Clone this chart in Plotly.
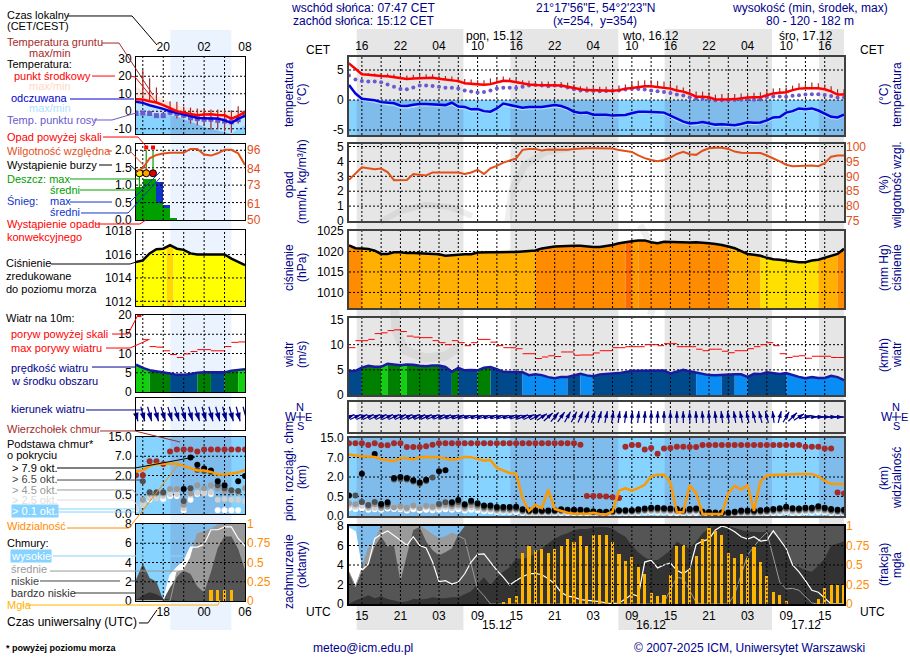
import numpy as np
import plotly.graph_objects as go

WIDTH, HEIGHT = 910, 660

# hours counted from 14.12 00 UTC
HOURS = list(range(13, 91))
SMALL_HOURS = list(range(14, 31))

NIGHT_START = [14.2, 38.1, 62.1, 86.1]
NIGHT_END = [30.8, 54.9, 78.8, 90.0]
DATE_START = [14.2, 54.9]
DATE_END = [30.8, 78.8]
SMALL_DAY = [19.05, 28.0]

TICK_HOURS = [15, 21, 27, 33, 39, 45, 51, 57, 63, 69, 75, 81, 87]
UTC_TICKS = ['15', '21', '03', '09', '15', '21', '03', '09', '15', '21', '03', '09', '15']
CET_TICKS = ['16', '22', '04', '10', '16', '22', '04', '10', '16', '22', '04', '10', '16']
SMALL_TICK_HOURS = [18, 24, 30]
SMALL_UTC_TICKS = ['18', '00', '06']
SMALL_CET_TICKS = ['20', '02', '08']

TEMP_MID = [6.1, 5.2, 4.3, 4.2, 4.05, 4.0, 3.95, 3.8, 3.55, 3.5,
            3.6, 3.65, 3.7, 3.7, 3.55, 3.45, 3.35, 3.15, 2.8, 2.7,
            2.6, 2.55, 2.65, 2.95, 3.2, 3.15, 2.95, 2.8, 2.6, 2.5,
            2.45, 2.4, 2.45, 2.4, 2.2, 1.95, 1.8, 1.65, 1.6, 1.6,
            1.6, 1.55, 1.65, 1.9, 2.0, 2.15, 2.3, 2.3, 2.2, 2.1,
            1.9, 1.6, 1.4, 1.05, 0.55, 0.55, 0.45, 0.1, 0.05, 0.1,
            0.15, 0.3, 0.4, 0.45, 0.45, 0.8, 1.1, 1.2, 1.3, 1.65,
            1.9, 1.95, 2.0, 1.95, 1.8, 1.45, 0.9, 0.9]
TEMP_LOW = [5.9, 5.0, 4.1, 4.0, 3.8, 3.8, 3.7, 3.6, 3.3, 3.3,
            3.4, 3.4, 3.5, 3.5, 3.3, 3.2, 3.1, 2.9, 2.5, 2.4,
            2.3, 2.3, 2.4, 2.7, 3.0, 2.9, 2.7, 2.5, 2.3, 2.2,
            2.2, 2.1, 2.2, 2.1, 1.9, 1.7, 1.5, 1.4, 1.3, 1.3,
            1.3, 1.3, 1.4, 1.6, 1.8, 1.9, 2.0, 2.0, 1.9, 1.8,
            1.6, 1.3, 1.1, 0.8, 0.3, 0.3, 0.2, -0.2, -0.2, -0.1,
            -0.1, 0.1, 0.2, 0.2, 0.2, 0.5, 0.9, 1.0, 1.1, 1.4,
            1.7, 1.7, 1.8, 1.7, 1.5, 1.2, 0.6, 0.6]
DEW_POINT = [4.1, 3.4, 3.15, 3.1, 3.1, 2.95, 2.6, 2.2, 1.85, 1.8,
             2.1, 2.4, 2.4, 2.35, 2.2, 2.05, 2.05, 1.9, 1.6, 1.4,
             1.25, 1.35, 1.6, 1.9, 2.05, 2.05, 2.0, 2.2, 2.4, 2.5,
             2.4, 2.3, 2.4, 2.35, 2.1, 1.8, 1.6, 1.55, 1.5, 1.45,
             1.5, 1.5, 1.6, 1.75, 1.85, 1.85, 1.75, 1.6, 1.45, 1.35,
             1.15, 0.9, 0.75, 0.45, 0.25, 0.2, 0.15, -0.05, -0.05, 0.0,
             0.0, 0.05, 0.05, 0.05, 0.1, 0.5, 0.6, 0.6, 0.55, 0.7,
             0.8, 0.9, 0.95, 0.95, 0.85, 0.65, 0.4, 0.4]
APPARENT = [2.5, 1.1, 0.2, 0.1, -0.05, -0.35, -0.5, -0.55, -0.95, -1.0,
            -0.8, -0.65, -0.65, -0.7, -0.8, -0.85, -0.45, -1.1, -1.15, -1.55,
            -1.5, -1.85, -1.95, -1.4, -0.6, -0.85, -1.1, -1.3, -1.15, -1.15,
            -1.15, -1.0, -0.85, -1.0, -1.4, -1.95, -2.15, -2.1, -2.45, -2.45,
            -2.45, -2.6, -2.6, -2.5, -2.2, -1.95, -1.95, -2.05, -2.05, -2.1,
            -2.6, -3.2, -3.6, -3.9, -3.85, -3.65, -3.9, -4.1, -4.05, -4.15,
            -4.2, -4.0, -3.7, -3.8, -3.75, -3.4, -2.9, -2.85, -2.1, -1.85,
            -1.4, -1.55, -1.4, -1.75, -2.3, -2.8, -2.9, -2.45]
APPARENT_LOW = [2.1, 0.7, -0.2, -0.3, -0.5, -0.7, -0.9, -1.0, -1.4, -1.5,
                -1.3, -1.1, -1.1, -1.1, -1.2, -1.2, -0.9, -1.5, -1.6, -2.0,
                -1.9, -2.2, -2.3, -1.8, -1.1, -1.3, -1.5, -1.7, -1.6, -1.6,
                -1.6, -1.4, -1.3, -1.4, -1.8, -2.3, -2.5, -2.4, -2.7, -2.7,
                -2.7, -2.9, -2.9, -2.8, -2.5, -2.3, -2.3, -2.4, -2.4, -2.5,
                -3.0, -3.6, -4.0, -4.3, -4.3, -4.0, -4.3, -4.5, -4.4, -4.5,
                -4.6, -4.4, -4.1, -4.2, -4.1, -3.8, -3.3, -3.2, -2.5, -2.2,
                -1.8, -1.9, -1.8, -2.1, -2.7, -3.2, -3.3, -2.8]
GROUND_MAX = [6.3, 5.4, 4.6, 4.5, 4.4, 4.4, 4.4, 4.3, 4.1, 4.1,
              4.2, 4.2, 4.3, 4.3, 4.1, 4.0, 3.9, 3.8, 3.5, 3.4,
              3.3, 3.3, 3.6, 3.8, 3.9, 3.7, 3.5, 3.3, 3.2, 3.1,
              3.1, 3.1, 3.1, 3.0, 2.9, 2.6, 2.3, 2.2, 2.2, 2.2,
              2.2, 2.1, 2.4, 2.6, 2.9, 3.2, 3.3, 3.3, 3.2, 3.1,
              2.8, 2.4, 2.1, 1.7, 1.4, 1.4, 1.3, 0.9, 1.0, 1.0,
              1.0, 1.1, 1.2, 1.2, 1.3, 1.6, 1.9, 2.0, 2.1, 2.4,
              2.8, 2.8, 2.9, 2.8, 2.6, 2.3, 1.8, 1.8]

HUMIDITY = [88.8, 91.0, 93.0, 92.7, 92.4, 92.6, 91.4, 88.7, 88.7, 88.8,
            90.8, 90.6, 90.3, 91.3, 91.3, 91.3, 91.3, 91.3, 90.8, 91.3,
            92.2, 90.8, 92.7, 93.5, 94.6, 95.2, 96.0, 98.9, 99.2, 99.2,
            98.7, 99.0, 99.0, 98.9, 98.9, 99.2, 99.4, 99.4, 99.4, 99.4,
            99.4, 99.3, 98.8, 98.6, 98.2, 97.0, 96.1, 95.5, 95.1, 95.5,
            96.3, 97.5, 98.2, 97.4, 97.2, 98.6, 99.4, 99.6, 99.6, 99.2,
            98.3, 97.9, 97.9, 98.0, 97.8, 97.0, 96.1, 95.0, 93.9, 93.4,
            93.5, 93.6, 93.6, 93.4, 94.4, 96.6, 97.0, 97.0]

PRESSURE = [1021.5, 1020.8, 1020.7, 1020.6, 1020.2, 1019.4, 1019.4, 1019.8, 1019.8, 1019.6,
            1019.6, 1019.5, 1019.5, 1019.4, 1019.3, 1018.95, 1019.0, 1019.2, 1019.35, 1019.35,
            1019.75, 1019.85, 1019.8, 1019.8, 1019.8, 1019.85, 1019.9, 1020.0, 1020.1, 1020.25,
            1020.75, 1021.0, 1021.2, 1021.3, 1021.4, 1021.4, 1021.4, 1021.2, 1021.1, 1021.1,
            1021.3, 1021.6, 1022.0, 1022.3, 1022.5, 1022.7, 1022.7, 1022.25, 1022.0, 1022.35,
            1022.3, 1022.2, 1022.2, 1022.2, 1022.25, 1022.2, 1022.0, 1021.8, 1021.6, 1021.2,
            1020.8, 1020.1, 1019.4, 1019.2, 1018.95, 1018.45, 1018.1, 1018.0, 1017.8, 1017.5,
            1017.4, 1017.4, 1017.8, 1018.0, 1018.45, 1018.95, 1019.4, 1020.65]
PRESSURE_RUNS = [(13, 15, '#ff8c00'), (15, 42, '#ffb000'), (42, 56, '#ff8c00'), (56, 57, '#ff6a00'),
                 (57, 58, '#ff9a00'), (58, 72, '#ff8c00'), (72, 77, '#ffb000'), (77, 86, '#ffe000'),
                 (86, 89, '#ffb000'), (89, 90, '#ff8c00')]

WIND = [4.75, 4.8, 5.45, 5.8, 5.6, 5.6, 6.2, 6.1, 5.9, 6.05,
        6.0, 5.8, 5.7, 5.85, 5.85, 5.6, 4.6, 5.4, 4.9, 4.95,
        4.9, 5.4, 5.55, 5.15, 4.6, 4.55, 4.55, 4.5, 3.95, 4.1,
        3.95, 3.55, 3.35, 3.6, 3.6, 3.95, 4.2, 3.9, 3.75, 4.1,
        4.15, 4.2, 4.35, 4.55, 4.75, 4.8, 4.8, 4.8, 4.8, 4.85,
        4.3, 4.7, 5.0, 4.7, 4.4, 4.1, 3.95, 3.9, 4.0, 4.1,
        4.1, 4.1, 3.6, 4.2, 4.15, 4.5, 4.35, 4.15, 4.35, 3.9,
        3.6, 3.35, 3.55, 3.4, 3.4, 3.8, 3.55, 2.95]
WIND_RUNS = [(13, 15, '#004a8c'), (15, 18, '#008000'), (18, 19, '#10d010'), (19, 21, '#008000'),
             (21, 22, '#10d010'), (22, 27, '#008000'), (27, 29, '#004a8c'), (29, 30, '#008000'),
             (30, 33, '#004a8c'), (33, 35, '#008000'), (35, 40, '#004a8c'), (40, 47, '#0a8cf5'),
             (47, 49, '#004a8c'), (49, 51, '#0a8cf5'), (51, 67, '#004a8c'), (67, 71, '#0a8cf5'),
             (71, 73, '#004a8c'), (73, 75, '#0a8cf5'), (75, 81, '#004a8c'), (81, 90, '#0a8cf5')]
GUST = [9.4, 10.8, 10.8, 11.05, 12.2, 12.35, 12.8, 12.95, 12.6, 11.7,
        11.5, 11.4, 11.4, 10.8, 10.4, 10.0, 10.8, 10.4, 9.8, 10.4,
        11.05, 11.05, 10.5, 9.8, 9.4, 9.4, 9.2, 8.2, 8.2, 7.25,
        7.55, 7.8, 7.65, 8.55, 8.55, 7.9, 7.95, 7.95, 8.35, 8.8,
        8.8, 9.4, 9.4, 9.6, 9.6, 9.6, 10.0, 10.0, 9.8, 10.2,
        10.2, 9.6, 9.6, 9.6, 9.1, 8.8, 9.1, 9.1, 8.7, 8.4,
        8.8, 8.8, 9.2, 9.6, 10.0, 10.4, 9.8, 8.2, 7.45, 7.7,
        7.8, 7.3, 7.7, 7.7, 7.7, 7.45, 7.45]
WIND_DIR = [65, 65, 65, 65, 65, 65, 66, 66, 66, 66,
            67, 67, 67, 68, 68, 69, 70, 72, 73, 73,
            73, 73, 73, 73, 73, 73, 71, 69, 66, 62,
            56, 48, 40, 35, 30, 27, 24, 20, 18, 16,
            12, 10, 8, 8, 6, 5, 4, 3, 2, 1,
            0, 0, -1, -2, -3, -4, -5, -6, -7, -8,
            -10, -12, -13, -15, -15, -15, -8, 15, 30, 45,
            58, 75, 85, 88, 88, 88, 90, 90]

BASE_TICKS = [0, 0.5, 2, 7, 15]
VIS_TICKS = [0, 1, 5, 20, 100]

TOPS = [12.8, 12.8, 12.8, 12.1, 12.8, 12.0, 12.0, 12.8, 12.8, 11.3,
        11.3, 11.3, 11.6, 12.2, 12.8, 12.8, 12.8, 12.8, 12.8, 12.8,
        12.8, 12.8, 12.8, 12.8, 12.8, 12.8, 12.8, 12.8, 12.8, 12.8,
        12.8, 12.8, 12.8, 12.8, 12.8, 12.8, 12.2, 0.53, 0.53, 0.53,
        0.5, 0.48, 0.46, 11.4, 12.1, 12.1, 10.3, 10.85, 8.5, 10.7,
        10.85, 11.4, 11.4, 11.3, 11.3, 12.1, 12.1, 12.1, 12.1, 12.1,
        12.1, 12.1, 12.1, 12.1, 12.1, 12.1, 12.1, 12.1, 12.1, 12.1,
        12.1, 11.4, 11.4, 11.4, 10.7, 10.7, 0.8, 0.73]
BASE_79 = [.58, None, 2.85, None, 8.4, .31, .35, 1.93, 2.0, 1.93,
           1.75, 1.58, 1.79, None, 3.5, 3.75, .35, .41, .3, .39,
           .33, .27, .27, .23, .23, .23, .24, .17, .14, .14,
           .14, .14, .15, .17, .16, .16, .16, .15, .12, .11,
           .11, .13, .15, .15, .15, .17, .19, .21, .21, .2,
           .19, .18, .15, .18, .19, .11, .1, .09, .09, .09,
           .11, .14, .14, .14, .15, .16, .18, .2, .24, .2,
           .19, .21, .21, .25, .21, .18, .16, .16]
BASE_65 = [None, .58, .36, .28, .36, .26, .3, 1.8, 1.85, 1.8,
           1.65, 1.48, 1.7, 1.97, .31, .35, .31, .36, .26, .35,
           .29, .23, .23, .19, .19, .19, .2, .14, .12, .12,
           .12, .12, .13, .14, .14, .14, .14, .13, .1, .09,
           .09, .11, .13, .13, .13, .14, .16, .18, .18, .17,
           .16, .15, .13, .15, .16, .09, .08, .07, .07, .07,
           .09, .11, .11, .11, .12, .13, .15, .17, .2, .17,
           .16, .18, .18, .21, .18, .15, .13, .13]
BASE_45 = [.33, .3, .36, .24, .3, .21, .24, .22, .25, .21,
           .27, .2, .26, .24, .26, .29, .25, .29, .21, .28,
           .24, .19, .19, .16, .16, .16, .17, .12, .1, .1,
           .1, .1, .11, .12, .12, .12, .12, .11, .09, .08,
           .08, .09, .11, .11, .11, .12, .14, .15, .15, .14,
           .14, .13, .11, .13, .14, .08, .07, .06, .06, .06,
           .08, .09, .09, .09, .1, .11, .13, .14, .17, .14,
           .14, .15, .15, .18, .15, .13, .11, .11]
BASE_25 = [.27, .24, .26, .2, .21, .19, .25, .22, .2, .17,
           .23, .2, .22, .2, .21, .23, .2, .23, .18, .22,
           .2, .16, .16, .13, .13, .13, .14, .1, .08, .08,
           .08, .08, .09, .1, .1, .1, .1, .09, .07, .06,
           .06, .07, .09, .09, .09, .1, .11, .12, .12, .11,
           .11, .1, .09, .1, .11, .06, .05, .05, .05, .05,
           .06, .07, .07, .07, .08, .09, .1, .11, .13, .11,
           .11, .12, .12, .14, .12, .1, .09, .09]
BASE_01 = [.2, .18, .2, .16, .17, .16, .19, .18, .17, .14,
           .17, .15, .16, .15, .16, .17, .16, .17, .14, .16,
           .15, .12, .12, .1, .1, .1, .1, .08, .06, .06,
           .06, .06, .07, .08, .08, .08, .08, .07, .05, .05,
           .05, .05, .07, .07, .07, .08, .09, .09, .09, .09,
           .08, .08, .07, .08, .08, .05, .04, .04, .04, .04,
           .05, .05, .05, .05, .06, .07, .08, .08, .1, .08,
           .08, .09, .09, .1, .09, .08, .07, .07]
VISIBILITY = [32, 27, 24, 24, 22.5, 18.7, 18.2, 17.2, 19.5, 19.5,
              18.5, 21.5, 22.5, 22.5, 21.5, 19.2, 18.2, 19, 22.5, 21.5,
              19, 17.6, 18, 12, 10, 8, 7.4, .91, .26, .57,
              .4, 2.4, .36, .26, .17, .12, .12, .12, .17, .1,
              .09, .22, 2.2, 2.7, 2.2, 2.7, 3.4, 5.5, 6.8, 6.8,
              3.8, .19, .19, 3.3, 1.7, .1, .1, .1, .1, 1.7,
              3.2, 2.4, 3.3, .26, 4.1, 6.3, 6.5, 7.1, 7.4, 7.4,
              7.4, 7.4, 7.4, 5.5, 4.2, 3.6, 3.5, 3.5]

CLOUD_HIGH = [7.8, 7.4, 3.45, 4.1, 6.7, 7.15, 7.5, 7.05, 6.55, 6.0,
              6.9, 6.0, 5.75, 4.3, 2.3, 2.4, 2.05, 2.25, 3.1, 4.3,
              5.1, 5.15, 4.3, 3.45, 2.75, 1.95, 2.4, 2.8, 3.1, 3.15,
              3.0, 2.6, 2.05, 1.2, 0.8, 0.7, 0.45, 0.4, 0.3, 0.25,
              0.1, 0.05, 0.1, 0.5, 1.0, 0.8, 4.3, 4.5, 3.7, 4.0,
              4.2, 3.45, 3.1, 3.6, 6.1, 6.45, 6.65, 7.6, 8.0, 7.8,
              7.4, 6.9, 6.65, 6.9, 6.45, 6.55, 7.5, 6.55, 5.7, 4.0,
              3.3, 2.4, 1.4, 1.2, 0.6, 0.0, 0.0, 0.0]
CLOUD_MID = [3.3, 1.75, 3.6, 5.7, 6.4, 8.0, 8.0, 8.0, 8.0, 8.0,
             8.0, 8.0, 7.6, 7.1, 6.7, 6.9, 7.25, 7.0, 6.65, 4.1,
             1.55, 0.85, 0.0, 0.0, 0.0, 0.0, 0.0, 0.0, 0.0, 0.0,
             0.0, 0.0, 0.0, 0.0, 0.0, 0.0, 0.0, 0.0, 0.0, 0.0,
             0.0, 0.0, 0.0, 0.0, 0.0, 0.0, 0.0, 0.0, 0.0, 0.15,
             1.4, 2.75, 2.6, 1.4, 0.15, 0.0, 0.0, 0.0, 0.0, 0.0,
             1.0, 2.9, 5.0, 5.9, 6.7, 7.35, 4.65, 2.25, 1.55, 1.6,
             1.4, 0.7, 0.1, 0.0, 0.0, 0.0, 0.0, 0.0]
CLOUD_LOW = [3.3, 1.9, 3.3, 4.0, 5.9, 6.9, 5.9, 6.0, 2.3, 5.0,
             7.6, 7.9, 6.4, 5.5, 5.0, 5.3, 5.7, 7.1, 8.0, 8.0,
             8.0, 8.0, 8.0, 8.0, 8.0, 8.0, 8.0, 8.0, 8.0, 8.0,
             8.0, 8.0, 8.0, 8.0, 8.0, 8.0, 8.0, 8.0, 8.0, 8.0,
             8.0, 8.0, 8.0, 8.0, 8.0, 8.0, 8.0, 8.0, 8.0, 8.0,
             8.0, 8.0, 8.0, 8.0, 8.0, 8.0, 8.0, 8.0, 8.0, 8.0,
             8.0, 8.0, 8.0, 8.0, 8.0, 8.0, 8.0, 8.0, 8.0, 8.0,
             8.0, 8.0, 8.0, 8.0, 8.0, 8.0, 8.0, 8.0]
CLOUD_VLOW = [0.0, 0.35, 0.6, 0.9, 0.6, 0.8, 0.5, 0.35, 0.2, 0.25,
              0.5, 0.45, 0.5, 0.7, 0.6, 0.6, 0.7, 0.7, 1.0, 1.3,
              2.05, 2.75, 1.9, 2.75, 3.3, 3.8, 4.65, 4.65, 4.8, 5.2,
              5.7, 6.2, 6.7, 7.05, 7.25, 7.6, 7.7, 7.7, 7.85, 7.9,
              7.9, 7.75, 7.25, 6.9, 6.0, 5.3, 4.8, 4.5, 4.5, 5.0,
              5.5, 6.4, 6.0, 5.7, 6.4, 7.25, 7.8, 8.0, 8.0, 8.0,
              7.8, 7.6, 7.4, 7.4, 7.35, 7.4, 7.25, 6.7, 5.5, 4.0,
              3.8, 3.45, 3.3, 3.95, 4.65, 6.0, 6.2, 6.4]
FOG = [0, 0, 0, 0, 0, 0, 0, 0, 0, 0,
       0, 0, 0, 0, 0, 0, 0, 0, 0, 0,
       0, 0, 0, 0, .03, .08, .1, .66, .74, .69,
       .7, .65, .7, .74, .83, .8, .87, .74, .88, .89,
       .88, .8, .64, .55, .6, .48, .38, .14, .1, .11,
       .37, .75, .76, .45, .62, .83, .97, .94, .89, .66,
       .59, .64, .59, .73, .54, .36, .16, .12, .04, 0,
       0, 0, 0, .07, .2, .25, .25, .25]

# small panels, first 16 hours
S_TEMP_MID = [6.9, 6.7, 5.75, 5.0, 3.45, 1.5, 0.0, -0.8, -1.7, -2.3, -1.9, -1.7, -2.1, -2.3, -4.2, -2.7, -0.4]
S_TEMP_HIGH = [14, 12, 10.5, 8.5, 7, 5, 3.5, 2.5, 1.5, 1, 0.8, 0.6, 0.5, 0.3, -0.3, 0, 1]
S_TEMP_LOW = [6, 5.5, 4, 3, 1.5, -0.5, -1.5, -2.5, -4, -5, -5.5, -6, -6.5, -6.5, -8, -5, -2]
S_APPARENT = [5.4, 4.8, 3.45, 2.5, 1.35, 0.0, -0.8, -1.7, -2.7, -3.8, -4.2, -4.2, -4.2, -5.2, -6.7, -4.2, -2.7]
S_APPARENT_LOW = [-1, -1.5, -2, -2.2, -2.3, -2.5, -3, -4.5, -6, -7.5, -9, -10, -11, -12, -13, -10, -8]
S_DEW = [-1.3, -1.0, -1.3, -2.5, -2.5, -0.6, -1.3, -2.3, -3.8, -4.2, -4.6, -4.6, -5.2, -5.6, -6.1, -4.8, -1.3]
S_GROUND_MAX = [None, 23.5, 18.8, 13.6, None, 5.7, 5.4, 2.5, 2.1, 1.5, 1.5, 1.0, 1.0, 0.6, 0.6, 2.9, None]
S_GROUND_MIN = [None, 8.0, 6.0, 4.4, None, -2.3, -4.2, -4.0, -7.0, -8.0, -8.0, -10.5, -10.5, -11.5, -12.3, -7.0, None]
S_HUMIDITY = [81.9, 84.1, 90.7, 92.9, 93.8, 94.3, 94.3, 94.3, 96.9, 96.9, 93.2, 92.5, 94.0, 96.3, 96.3, 94.0, 86.3]
S_RAIN = [.94, 1.17, 1.17, .5, .35, .05]
S_SNOW = [0, 0, 0, .6, .08, 0]
S_RAIN_HOURS = [14, 15, 16, 17, 18, 19]
STORM_HOURS = [14.5, 15.5, 16.5]
STORM_COLOURS = ['#ffe000', '#ffa000', '#e00000']
STORM_LEVEL = [1.34, 1.34, 1.34]
RAIN_MAX = [0.94, 2.0, 2.0]
RAIN_OVER_SCALE = [None, 2.08, 2.08]
S_PRESSURE = [1015.35, 1015.5, 1016.1, 1016.45, 1016.5, 1016.8, 1016.5, 1016.4, 1016.1, 1016.0,
              1016.0, 1016.0, 1016.0, 1016.0, 1015.65, 1015.4, 1015.1]
S_PRESSURE_RUNS = [(14, 18.5, '#ffff00'), (18.5, 19.5, '#ffd800'), (19.5, 30, '#ffff00')]
S_WIND = [7.1, 6.25, 5.65, 5.4, 5.2, 4.8, 4.45, 4.45, 4.7, 5.0, 5.1, 5.05, 5.05, 5.1, 5.55, 5.65, 5.9]
S_WIND_RUNS = [(14, 16, '#10d010'), (16, 19, '#008000'), (19, 23, '#004a8c'), (23, 25, '#008000'),
               (25, 27, '#004a8c'), (27, 29, '#008000'), (29, 30, '#10d010')]
S_GUST = [20, 13.6, 11.8, 11.65, 10.7, 9.75, 8.95, 9.9, 10.5, 11, 11, 10.7, 10.7, 11.8, 12.9, 13]
S_WIND_DIR = [165, 165, 164, 164, 163, 163, 162, 162, 163, 163, 164, 164, 164, 165, 165, 165, 165]
S_TOPS = [2.05, 2.05, 5.7, 5.7, 5.0, 9.0, 9.8, 9.8, 9.8, 9.0, 9.8, 9.8, 9.8, 9.8, 9.8, 9.8, 9.8]
S_BASE_79 = [None, None, None, None, None, None, None, .95, 6.7, 4.8, 3.8, 3.3, 1.56, 1.25, None, 1.56, 1.97]
S_BASE_65 = [None, 1.55, .7, .7, .7, None, None, .34, 1.0, 3.4, 3.2, 2.9, 1.25, 1.0, .85, .8, None]
S_BASE_45 = [None, .37, .6, .6, .6, .95, .95, .24, .62, 1.25, 1.0, 1.25, 1.0, .8, .75, .7, 1.0]
S_BASE_25 = [.15, .24, .41, .41, .47, .55, .55, .15, .5, .65, .6, .7, .37, .39, .37, .37, .33]
S_BASE_01 = [.13, .24, .37, None, .39, .47, .47, .1, .37, .55, .65, .55, .1, .1, .1, .1, None]
S_VISIBILITY = [8.3, 9, 12.5, 14, 14.2, 14.2, 14.2, 12.5, 10.4, 8.9, 8.9, 7.8, 5.8, 5.8, 6.5, 7.3, 9.3]
S_CLOUD_HIGH = [0, 0, 0, 0, 0, 2.7, 3.5, 4.1, 5.6, 5.6, 5.9, 7.4, 7.4, 7.7, 7.7, 6.5, 5.7]
S_CLOUD_MID = [0, 0, 0, 0, 0, 0, 3.0, 3.2, 4.5, 7.0, 7.2, 7.5, 7.9, 8.0, 8.0, 8.0, 8.0]
S_CLOUD_LOW = [2.2, 3.9, 2.4, 2.0, 0.1, 1.4, 2.5, 3.2, 2.8, 1.5, 0.9, 3.0, 5.5, 6.7, 6.7, 5.4, 3.2]
S_CLOUD_VLOW = [0.1, 0.6, 0.9, 0.7, 0.3, 0.1, 0, 0, 0, 0, 0, 0, 0, 0, 0, 0, 0]
S_FOG = [0, 0, 0, 0, 0, 0, 0, 0, 0, 0, 0, .14, .14, .14, .14, 0, 0]

FONT = 'Liberation Sans'
NAVY = '#00008b'
BROWN = '#a52a2a'
RH_RED = '#e2501a'
ORANGE = '#ff8c00'
FOG_YELLOW = '#ffb400'
DAY_BLUE = '#86d3ff'
NIGHT_BLUE = '#7fbcec'
OCTA_COLOURS = ['#ffffff', '#d0d0d0', '#9a9a9a', '#505050', '#000000']

fig = go.Figure()
shapes = []
annotations = []
layout = {}
panel_count = 0


def sfx(n):
    return '' if n == 1 else str(n)


def add_panel(box, x_range, y_range, y_ticks, y_text, right_range, right_ticks, right_text, right_colour='black',
              top_ticks=None, bottom_ticks=None, border='black', border_width=1):
    # box is left, top, right, bottom in pixels; returns the three axis ids
    global panel_count
    panel_count += 1
    left, top, right, bottom = box
    ny, ny2 = 2 * panel_count - 1, 2 * panel_count
    x_id, y_id, y2_id = 'x' + sfx(panel_count), 'y' + sfx(ny), 'y' + sfx(ny2)
    font = dict(family=FONT, size=12, color='black')
    x_axis = dict(domain=[left / WIDTH, right / WIDTH], range=x_range, anchor=y_id, showgrid=False, zeroline=False,
                  showline=True, mirror=True, linecolor=border, linewidth=border_width, ticks='',
                  showticklabels=False, fixedrange=True, tickfont=font)
    ticks = top_ticks or bottom_ticks
    if ticks:
        x_axis.update(showticklabels=True, tickmode='array', tickvals=ticks[0], ticktext=ticks[1],
                      side='top' if top_ticks else 'bottom', ticklabelstandoff=0)
    layout['xaxis' + sfx(panel_count)] = x_axis
    y_domain = [1 - bottom / HEIGHT, 1 - top / HEIGHT]
    layout['yaxis' + sfx(ny)] = dict(domain=y_domain, range=y_range, anchor=x_id, showgrid=False, zeroline=False,
                                     showline=True, mirror=True, linecolor=border, linewidth=border_width, ticks='',
                                     tickmode='array', tickvals=y_ticks, ticktext=y_text, tickfont=font,
                                     ticklabelstandoff=1, fixedrange=True)
    layout['yaxis' + sfx(ny2)] = dict(range=right_range, anchor=x_id, overlaying=y_id, side='right', showgrid=False,
                                      zeroline=False, ticks='', tickmode='array', tickvals=right_ticks,
                                      ticktext=right_text, ticklabelstandoff=1, fixedrange=True,
                                      tickfont=dict(family=FONT, size=12, color=right_colour))
    return x_id, y_id, y2_id


def add_grid(axes, x_vals, y_vals, x_range, y_range, on_right=None):
    xa, ya, ya2 = axes
    xs, ys = [], []
    for v in x_vals:
        xs += [v, v, None]
        ys += [y_range[0], y_range[1], None]
    for v in y_vals:
        xs += [x_range[0], x_range[1], None]
        ys += [v, v, None]
    fig.add_trace(go.Scatter(x=xs, y=ys, xaxis=xa, yaxis=on_right or ya, mode='lines',
                             line=dict(color='black', width=1, dash='2px,2px'), connectgaps=False,
                             hoverinfo='skip', showlegend=False))


def add_runs(axes, hours, values, runs):
    xa, ya = axes[0], axes[1]
    hours = np.array(hours, dtype=float)
    values = np.array(values, dtype=float)
    for start, end, colour in runs:
        px = np.arange(start, end + 0.01, 0.5)
        py = np.interp(px, hours, values)
        fig.add_trace(go.Scatter(x=px, y=py, xaxis=xa, yaxis=ya, mode='none', fill='tozeroy', fillcolor=colour,
                                 hoverinfo='skip', showlegend=False))


def add_band(axes, hours, high, low, colour):
    xa, ya = axes[0], axes[1]
    fig.add_trace(go.Scatter(x=list(hours) + list(hours)[::-1], y=list(high) + list(low)[::-1], xaxis=xa, yaxis=ya,
                             mode='none', fill='toself', fillcolor=colour, hoverinfo='skip', showlegend=False))


def add_line(axes, hours, values, colour, width):
    xa, ya = axes[0], axes[1]
    fig.add_trace(go.Scatter(x=hours, y=values, xaxis=xa, yaxis=ya, mode='lines', line=dict(color=colour, width=width),
                             hoverinfo='skip', showlegend=False))


def add_sticks(axes, hours, low, high, colour, width=1.2):
    xa, ya = axes[0], axes[1]
    xs, ys = [], []
    for h, a, b in zip(hours, low, high):
        if a is None or b is None:
            continue
        xs += [h, h, None]
        ys += [a, b, None]
    fig.add_trace(go.Scatter(x=xs, y=ys, xaxis=xa, yaxis=ya, mode='lines', line=dict(color=colour, width=width),
                             hoverinfo='skip', showlegend=False))


def add_dots(axes, hours, values, colour, size, symbol='circle'):
    xa, ya = axes[0], axes[1]
    fig.add_trace(go.Scatter(x=hours, y=values, xaxis=xa, yaxis=ya, mode='markers',
                             marker=dict(color=colour, size=size, symbol=symbol, line_width=0),
                             hoverinfo='skip', showlegend=False))


def add_gusts(axes, hours, values):
    xa, ya = axes[0], axes[1]
    xs, ys = [], []
    for h, v in zip(hours, values):
        xs += [h, h + 1, None]
        ys += [v, v, None]
    fig.add_trace(go.Scatter(x=xs, y=ys, xaxis=xa, yaxis=ya, mode='lines', line=dict(color='#ff0000', width=1),
                             hoverinfo='skip', showlegend=False))


def add_arrows(axes, hours, angles, length_px, px_per_hour, px_per_unit, head=7):
    xa, ya = axes[0], axes[1]
    rad = np.radians(np.array(angles, dtype=float))
    dx = np.sin(rad) * length_px / 2 / px_per_hour
    dy = np.cos(rad) * length_px / 2 / px_per_unit
    xs, ys = [], []
    for h, a, b in zip(hours, dx, dy):
        xs += [h - a, h + a, None]
        ys += [-b, b, None]
    fig.add_trace(go.Scatter(x=xs, y=ys, xaxis=xa, yaxis=ya, mode='lines', line=dict(color=NAVY, width=1.2),
                             cliponaxis=False, hoverinfo='skip', showlegend=False))
    fig.add_trace(go.Scatter(x=np.array(hours) + dx, y=dy, xaxis=xa, yaxis=ya, mode='markers', cliponaxis=False,
                             marker=dict(symbol='arrow', color=NAVY, size=head, angle=list(angles), line_width=0),
                             hoverinfo='skip', showlegend=False))


def base_pos(values):
    return [None if v is None else float(np.interp(v, BASE_TICKS, range(5))) for v in values]


def vis_pos(values):
    return [float(np.interp(v, VIS_TICKS, range(5))) for v in values]


def tint(axes, x_range, y_range, dark_start, dark_end):
    # coloured ground of a panel: one colour by day, a darker one in the shaded hours
    xa, ya = axes[0], axes[1]
    shapes.append(dict(type='rect', xref=xa, yref=ya, x0=x_range[0], x1=x_range[1], y0=y_range[0], y1=y_range[1],
                       fillcolor=DAY_BLUE, line_width=0, layer='below'))
    for a, b in zip(dark_start, dark_end):
        shapes.append(dict(type='rect', xref=xa, yref=ya, x0=a, x1=b, y0=y_range[0], y1=y_range[1],
                           fillcolor=NIGHT_BLUE, line_width=0, layer='below'))


def label(x, y, text, colour='black', size=11, anchor='left', angle=0, bg=None, bold=False):
    if bold:
        text = '<b>' + text + '</b>'
    annotations.append(dict(xref='paper', yref='paper', x=x / WIDTH, y=1 - y / HEIGHT, text=text, showarrow=False,
                            xanchor=anchor, yanchor='middle', textangle=angle, bgcolor=bg, borderpad=0,
                            font=dict(family=FONT, size=size, color=colour)))


def leader(points, colour, width=1, layer='above'):
    path = 'M ' + ' L '.join('%.4f %.4f' % (x / WIDTH, 1 - y / HEIGHT) for x, y in points)
    shapes.append(dict(type='path', path=path, xref='paper', yref='paper', line=dict(color=colour, width=width),
                       layer=layer))


MAIN_X = [13, 90]
SMALL_X = [14, 30]
MAIN_V = list(range(15, 90, 3))
SMALL_V = list(range(15, 30, 3))

# main column
temp_y = [-5.83, 7.17]
temp_axes = add_panel((349, 57, 844, 135), MAIN_X, temp_y, [-5, 0, 5], ['-5', '0', '5'], temp_y, [-5, 0, 5], ['-5', '0', '5'],
                      top_ticks=(TICK_HOURS, CET_TICKS), border='#404040', border_width=2)
rain_y = [0, 5.17]
rain_axes = add_panel((349, 144, 844, 221), MAIN_X, rain_y, [0, 1, 2, 3, 4, 5], ['0', '1', '2', '3', '4', '5'],
                      [75, 100.85], [75, 80, 85, 90, 95, 100], ['75', '80', '85', '90', '95', '100'], RH_RED,
                      border='#404040', border_width=2)
pres_y = [1006.2, 1025]
pres_axes = add_panel((349, 231, 844, 308), MAIN_X, pres_y, [1010, 1015, 1020, 1025], ['1010', '1015', '1020', '1025'],
                      pres_y, [1010, 1015, 1020, 1025], ['758', '761', '765', '769'], border='#404040', border_width=2)
wind_y = [0, 15.3]
wind_axes = add_panel((349, 318, 844, 395), MAIN_X, wind_y, [0, 5, 10, 15], ['0', '5', '10', '15'],
                      wind_y, [0, 5, 10, 15], ['0', '18', '36', '54'], border='#404040', border_width=2)
dir_y = [-1, 1]
dir_axes = add_panel((349, 402, 844, 432), MAIN_X, dir_y, [], [], dir_y, [], [], border='#404040', border_width=2)
base_y = [0, 4]
base_axes = add_panel((349, 438, 844, 516), MAIN_X, base_y, [0, 1, 2, 3, 4], ['0.0', '0.5', '2.0', '7.0', '15.0'],
                      base_y, [0, 1, 2, 3, 4], ['0', '1', '5', '20', '100'], ORANGE, border='#404040', border_width=2)
cloud_y = [0, 8]
cloud_axes = add_panel((349, 526, 844, 604), MAIN_X, cloud_y, [0, 2, 4, 6, 8], ['0', '2', '4', '6', '8'],
                       [0, 1], [0, .25, .5, .75, 1], ['0', '0.25', '0.5', '0.75', '1'], ORANGE,
                       bottom_ticks=(TICK_HOURS, UTC_TICKS), border='black', border_width=2)

# small column
s_temp_y = [-13, 31]
s_temp_axes = add_panel((136, 57, 245, 134), SMALL_X, s_temp_y, [-10, 0, 10, 20, 30], ['-10', '0', '10', '20', '30'],
                        s_temp_y, [-10, 0, 10, 20, 30], ['-10', '0', '10', '20', '30'],
                        top_ticks=(SMALL_TICK_HOURS, SMALL_CET_TICKS))
s_rain_y = [0, 2.18]
s_rain_axes = add_panel((136, 144, 245, 220), SMALL_X, s_rain_y, [0, .5, 1, 1.5, 2], ['0.0', '0.5', '1.0', '1.5', '2.0'],
                        [50, 100.14], [50, 61, 73, 84, 96], ['50', '61', '73', '84', '96'], RH_RED)
s_pres_y = [1011.6, 1018.1]
s_pres_axes = add_panel((136, 230, 245, 306), SMALL_X, s_pres_y, [1012, 1014, 1016, 1018], ['1012', '1014', '1016', '1018'],
                        s_pres_y, [1012, 1014, 1016, 1018], ['1012', '1014', '1016', '1018'])
s_wind_y = [0, 20]
s_wind_axes = add_panel((136, 315, 245, 392), SMALL_X, s_wind_y, [0, 5, 10, 15, 20], ['0', '5', '10', '15', '20'],
                        s_wind_y, [0, 5, 10, 15, 20], ['0', '18', '36', '54', '72'])
s_dir_axes = add_panel((136, 398, 245, 430), SMALL_X, dir_y, [], [], dir_y, [], [])
s_base_axes = add_panel((136, 437, 245, 514), SMALL_X, base_y, [0, 1, 2, 3, 4], ['0.0', '0.5', '2.0', '7.0', '15.0'],
                        base_y, [0, 1, 2, 3, 4], ['0', '1', '5', '20', '100'], ORANGE)
s_cloud_axes = add_panel((136, 524, 245, 601), SMALL_X, cloud_y, [0, 2, 4, 6, 8], ['0', '2', '4', '6', '8'],
                         [0, 1], [0, .25, .5, .75, 1], ['0', '0.25', '0.5', '0.75', '1'], ORANGE,
                         bottom_ticks=(SMALL_TICK_HOURS, SMALL_UTC_TICKS))

# shaded hours behind the panels
for a, b in zip(NIGHT_START, NIGHT_END):
    shapes.append(dict(type='rect', xref=temp_axes[0], yref='paper', x0=a, x1=b, y0=1 - 604 / HEIGHT, y1=1 - 29 / HEIGHT,
                       fillcolor='#e6e6e6', line_width=0, layer='below'))
for a, b in zip(DATE_START, DATE_END):
    shapes.append(dict(type='rect', xref=temp_axes[0], yref='paper', x0=a, x1=b, y0=1 - 630 / HEIGHT, y1=1 - 604 / HEIGHT,
                       fillcolor='#e6e6e6', line_width=0, layer='below'))
shapes.append(dict(type='rect', xref=s_temp_axes[0], yref='paper', x0=SMALL_DAY[0], x1=SMALL_DAY[1],
                   y0=1 - 630 / HEIGHT, y1=1 - 30 / HEIGHT, fillcolor='#eaf3fe', line_width=0, layer='below'))

# faint logo strokes behind the main column
LOGO_COLOUR = 'rgba(150,150,150,0.16)'
leader([(394, 300), (396, 330), (404, 350), (425, 358), (445, 356), (458, 348)], LOGO_COLOUR, 9, 'below')
leader([(380, 222), (400, 211), (425, 205), (450, 207), (472, 216)], LOGO_COLOUR, 6, 'below')
leader([(508, 222), (512, 190), (525, 165), (545, 152), (570, 148)], LOGO_COLOUR, 7, 'below')
leader([(640, 225), (655, 250), (662, 285), (650, 315)], LOGO_COLOUR, 7, 'below')

# temperature
tint(temp_axes, MAIN_X, [temp_y[0], 0], NIGHT_START, NIGHT_END)
add_grid(temp_axes, MAIN_V, [-5, 0, 5], MAIN_X, temp_y)
add_band(temp_axes, HOURS, APPARENT, APPARENT_LOW, '#b5e0ff')
add_band(temp_axes, HOURS, TEMP_MID, TEMP_LOW, '#ffd8cc')
add_sticks(temp_axes, HOURS, TEMP_MID, GROUND_MAX, BROWN)
add_dots(temp_axes, HOURS, DEW_POINT, '#6a5acd', 4)
add_line(temp_axes, HOURS, APPARENT, '#0000e0', 2.5)
add_line(temp_axes, HOURS, TEMP_MID, '#ff0000', 2.5)

tint(s_temp_axes, SMALL_X, [s_temp_y[0], 0], [SMALL_DAY[0]], [SMALL_DAY[1]])
add_band(s_temp_axes, SMALL_HOURS, S_APPARENT, S_APPARENT_LOW, '#bfe4ff')
add_band(s_temp_axes, SMALL_HOURS, S_TEMP_HIGH, S_TEMP_LOW, '#ffe6dc')
add_grid(s_temp_axes, SMALL_V, [-10, 0, 10, 20], SMALL_X, s_temp_y)
add_sticks(s_temp_axes, SMALL_HOURS, S_GROUND_MIN, S_GROUND_MAX, BROWN)
add_dots(s_temp_axes, SMALL_HOURS, S_DEW, '#6a5acd', 5, 'square')
add_line(s_temp_axes, SMALL_HOURS, S_APPARENT, '#0000e0', 2.5)
add_line(s_temp_axes, SMALL_HOURS, S_TEMP_MID, '#ff0000', 2.5)

# precipitation and humidity
add_grid(rain_axes, MAIN_V, [1, 2, 3, 4, 5], MAIN_X, rain_y)
fig.add_trace(go.Scatter(x=HOURS, y=HUMIDITY, xaxis=rain_axes[0], yaxis=rain_axes[2], mode='lines',
                         line=dict(color=RH_RED, width=2), hoverinfo='skip', showlegend=False))

s_bar_x = [h + 0.5 for h in S_RAIN_HOURS]
fig.add_trace(go.Bar(x=s_bar_x, y=S_RAIN, width=1, xaxis=s_rain_axes[0], yaxis=s_rain_axes[1], marker=dict(color='#00a000', line_width=0),
                     hoverinfo='skip', showlegend=False))
fig.add_trace(go.Bar(x=s_bar_x, y=S_SNOW, width=1, xaxis=s_rain_axes[0], yaxis=s_rain_axes[1], marker=dict(color='#1133cc', line_width=0),
                     hoverinfo='skip', showlegend=False))
add_grid(s_rain_axes, SMALL_V, [.5, 1, 1.5, 2], SMALL_X, s_rain_y)
add_sticks(s_rain_axes, STORM_HOURS, STORM_LEVEL, RAIN_MAX, '#00a000')
fig.add_trace(go.Scatter(x=STORM_HOURS, y=STORM_LEVEL, xaxis=s_rain_axes[0], yaxis=s_rain_axes[1], mode='markers',
                         marker=dict(color=STORM_COLOURS, size=7, line=dict(color='black', width=1)),
                         hoverinfo='skip', showlegend=False))
add_dots(s_rain_axes, STORM_HOURS, RAIN_OVER_SCALE, '#ff0000', 4, 'square')
fig.add_trace(go.Scatter(x=SMALL_HOURS, y=S_HUMIDITY, xaxis=s_rain_axes[0], yaxis=s_rain_axes[2], mode='lines',
                         line=dict(color=RH_RED, width=2), hoverinfo='skip', showlegend=False))

# pressure
add_runs(pres_axes, HOURS, PRESSURE, PRESSURE_RUNS)
add_grid(pres_axes, MAIN_V, [1010, 1015, 1020], MAIN_X, pres_y)
add_line(pres_axes, HOURS, PRESSURE, 'black', 2.5)

add_runs(s_pres_axes, SMALL_HOURS, S_PRESSURE, S_PRESSURE_RUNS)
add_grid(s_pres_axes, SMALL_V, [1012, 1014, 1016], SMALL_X, s_pres_y)
add_line(s_pres_axes, SMALL_HOURS, S_PRESSURE, 'black', 2.5)

# wind
add_runs(wind_axes, HOURS, WIND, WIND_RUNS)
add_grid(wind_axes, MAIN_V, [5, 10], MAIN_X, wind_y)
add_line(wind_axes, HOURS, WIND, '#1a1aa0', 2.5)
add_gusts(wind_axes, HOURS[:-1], GUST)

add_runs(s_wind_axes, SMALL_HOURS, S_WIND, S_WIND_RUNS)
add_grid(s_wind_axes, SMALL_V, [5, 10, 15], SMALL_X, s_wind_y)
add_line(s_wind_axes, SMALL_HOURS, S_WIND, '#1a1aa0', 2.5)
add_gusts(s_wind_axes, SMALL_HOURS[1:-1], S_GUST[1:])
add_dots(s_wind_axes, [14.5], [S_GUST[0]], '#ff0000', 4, 'square')

add_grid(dir_axes, MAIN_V, [], MAIN_X, dir_y)
add_arrows(dir_axes, HOURS, WIND_DIR, 12, 495 / 77, 15, head=7)
add_grid(s_dir_axes, SMALL_V, [], SMALL_X, dir_y)
add_arrows(s_dir_axes, SMALL_HOURS, S_WIND_DIR, 15, 109 / 16, 16, head=9)

# cloud base, tops and visibility
tint(base_axes, MAIN_X, base_y, NIGHT_START, NIGHT_END)
add_grid(base_axes, MAIN_V, [1, 2, 3], MAIN_X, base_y)
for series, colour in zip([BASE_01, BASE_25, BASE_45, BASE_65, BASE_79], OCTA_COLOURS):
    add_dots(base_axes, HOURS, base_pos(series), colour, 6)
add_dots(base_axes, HOURS, base_pos(TOPS), BROWN, 6)
add_line(base_axes, HOURS, vis_pos(VISIBILITY), '#ff9900', 2.5)

tint(s_base_axes, SMALL_X, base_y, [SMALL_DAY[0]], [SMALL_DAY[1]])
add_grid(s_base_axes, SMALL_V, [1, 2, 3], SMALL_X, base_y)
for series, colour in zip([S_BASE_01, S_BASE_25, S_BASE_45, S_BASE_65, S_BASE_79], OCTA_COLOURS):
    add_dots(s_base_axes, SMALL_HOURS, base_pos(series), colour, 6)
add_dots(s_base_axes, SMALL_HOURS, base_pos(S_TOPS), BROWN, 6)
add_line(s_base_axes, SMALL_HOURS, vis_pos(S_VISIBILITY), '#ff9900', 2.5)

# cloud cover and fog
tint(cloud_axes, MAIN_X, cloud_y, NIGHT_START, NIGHT_END)
add_runs(cloud_axes, HOURS, CLOUD_HIGH, [(13, 90, '#ffffff')])
add_runs(cloud_axes, HOURS, CLOUD_MID, [(13, 90, '#9a9a9a')])
add_runs(cloud_axes, HOURS, CLOUD_LOW, [(13, 90, '#555555')])
add_runs(cloud_axes, HOURS, CLOUD_VLOW, [(13, 90, '#333333')])
add_line(cloud_axes, HOURS, CLOUD_MID, '#9a9a9a', 1)
add_line(cloud_axes, HOURS, CLOUD_HIGH, '#ffffff', 1.2)
fig.add_trace(go.Bar(x=HOURS, y=FOG, width=0.5, xaxis=cloud_axes[0], yaxis=cloud_axes[2],
                     marker=dict(color=FOG_YELLOW, line_width=0), hoverinfo='skip', showlegend=False))
add_grid(cloud_axes, MAIN_V, [.25, .5, .75], MAIN_X, [0, 1], on_right=cloud_axes[2])

tint(s_cloud_axes, SMALL_X, cloud_y, [SMALL_DAY[0]], [SMALL_DAY[1]])
add_runs(s_cloud_axes, SMALL_HOURS, S_CLOUD_HIGH, [(14, 30, '#ffffff')])
add_runs(s_cloud_axes, SMALL_HOURS, S_CLOUD_MID, [(14, 30, '#9a9a9a')])
add_runs(s_cloud_axes, SMALL_HOURS, S_CLOUD_LOW, [(14, 30, '#555555')])
add_runs(s_cloud_axes, SMALL_HOURS, S_CLOUD_VLOW, [(14, 30, '#333333')])
add_line(s_cloud_axes, SMALL_HOURS, S_CLOUD_MID, '#9a9a9a', 1)
add_line(s_cloud_axes, SMALL_HOURS, S_CLOUD_HIGH, '#ffffff', 1.2)
fig.add_trace(go.Bar(x=SMALL_HOURS, y=S_FOG, width=0.5, xaxis=s_cloud_axes[0], yaxis=s_cloud_axes[2],
                     marker=dict(color=FOG_YELLOW, line_width=0), hoverinfo='skip', showlegend=False))
add_grid(s_cloud_axes, SMALL_V, [.25, .5, .75], SMALL_X, [0, 1], on_right=s_cloud_axes[2])

# header and footer
label(363, 8, 'wschód słońca: 07:47 CET', NAVY, 12, 'center')
label(363, 21, 'zachód słońca: 15:12 CET', NAVY, 12, 'center')
label(595, 8, '21°17\'56"E, 54°2\'23"N', NAVY, 12, 'center')
label(595, 21, '(x=254,  y=354)', NAVY, 12, 'center')
label(810, 8, 'wysokość (min, środek, max)', NAVY, 12, 'center')
label(810, 21, '80 - 120 - 182 m', NAVY, 12, 'center')
label(495, 36, 'pon, 15.12', 'black', 12, 'center')
label(650, 36, 'wto, 16.12', 'black', 12, 'center')
label(806, 36, 'śro, 17.12', 'black', 12, 'center')
label(318, 50, 'CET', 'black', 12, 'center')
label(872, 50, 'CET', 'black', 12, 'center')
label(318, 612, 'UTC', 'black', 12, 'center')
label(872, 612, 'UTC', 'black', 12, 'center')
label(497, 625, '15.12', 'black', 12, 'center')
label(651, 625, '16.12', 'black', 12, 'center')
label(806, 625, '17.12', 'black', 12, 'center')
label(363, 648, 'meteo@icm.edu.pl', NAVY, 12, 'center')
label(749, 648, '© 2007-2025 ICM, Uniwersytet Warszawski', NAVY, 12, 'center')

# vertical titles, left and right of the main column
for y, y2, outer, inner in [(95, 95, 'temperatura', '(°C)'), (185, 182, 'opad', '(mm/h, kg/m³/h)'), (268, 268, 'ciśnienie', '(hPa)'),
                            (355, 355, 'wiatr', '(m/s)'), (470, 477, 'pion. rozciągł. chm.', '(km)'), (572, 565, 'zachmurzenie', '(oktanty)')]:
    label(289, y, outer, NAVY, 12, 'center', -90)
    label(302, y2, inner, NAVY, 12, 'center', -90)
for y, outer, inner in [(95, 'temperatura', '(°C)'), (185, 'wilgotność wzgl.', '(%)'), (268, 'ciśnienie', '(mm Hg)'),
                        (355, 'wiatr', '(km/h)'), (478, 'widzialność', '(km)'), (565, 'mgła', '(frakcja)')]:
    label(897, y, outer, NAVY, 12, 'center', -90)
    label(884, y, inner, NAVY, 12, 'center', -90)

# compass marks next to the wind direction panel
for cx in (300, 896):
    label(cx - 9, 417, 'W', NAVY, 12, 'center')
    label(cx, 407, 'N', NAVY, 11, 'center')
    label(cx, 426, 'S', NAVY, 11, 'center')
    label(cx + 8, 417, 'E', NAVY, 11, 'center')

# legend column
label(6, 15, 'Czas lokalny')
label(6, 26, '(CET/CEST)')
label(6, 42, 'Temperatura gruntu', BROWN)
label(28, 53, 'max/min', BROWN)
label(6, 64, 'Temperatura:')
label(13, 76, 'punkt środkowy', '#ff0000')
label(28, 86, 'max/min', '#ffd8c8')
label(10, 98, 'odczuwana', '#0000cd')
label(28, 108, 'max/min', '#b0e0ff')
label(6, 120, 'Temp. punktu rosy', '#6a5acd')
label(6, 137, 'Opad powyżej skali', '#ff0000')
label(6, 151, 'Wilgotność względna', RH_RED)
label(6, 165, 'Wystąpienie burzy')
label(6, 179, 'Deszcz: max', '#00a000')
label(49, 190, 'średni', '#00a000')
label(6, 201, 'Śnieg:', '#1133cc')
label(49, 201, 'max', '#1133cc')
label(49, 212, 'średni', '#1133cc')
label(6, 224, 'Wystąpienie opadu', '#ff0000')
label(6, 237, 'konwekcyjnego', '#ff0000')
label(5, 263, 'Ciśnienie')
label(5, 276, 'zredukowane')
label(5, 289, 'do poziomu morza')
label(5, 318, 'Wiatr na 10m:')
label(10, 334, 'poryw powyżej skali', '#ff0000')
label(10, 348, 'max porywy wiatru', '#ff0000')
label(10, 368, 'prędkość wiatru', NAVY)
label(10, 381, 'w środku obszaru', NAVY)
label(10, 409, 'kierunek wiatru', NAVY)
label(6, 429, 'Wierzchołek chmur', BROWN)
label(6, 444, 'Podstawa chmur*')
label(6, 455, 'o pokryciu')
label(11, 468, '> 7.9 okt.')
label(11, 479, '> 6.5 okt.', '#444444')
label(11, 490, '> 4.5 okt.', '#999999')
label(11, 500, '> 2.5 okt.', '#dddddd')
label(11, 511, '> 0.1 okt.', '#ffffff', bg=DAY_BLUE)
label(6, 526, 'Widzialność', ORANGE)
label(6, 543, 'Chmury:')
label(10, 556, 'wysokie', '#ffffff', bg=DAY_BLUE)
label(10, 569, 'średnie', '#999999')
label(10, 581, 'niskie', '#444444')
label(10, 593, 'bardzo niskie', '#333333')
label(6, 605, 'Mgła', FOG_YELLOW)
label(6, 622, 'Czas uniwersalny (UTC)', size=12)
label(5, 648, '* powyżej poziomu morza', size=9, bold=True)

leader([(67, 16), (132, 16), (157, 45)], 'black')
leader([(102, 43), (119, 43), (153, 95)], BROWN)
leader([(92, 76), (115, 76)], '#ff0000')
leader([(130, 76), (135, 77), (155, 101)], '#ff0000')
leader([(70, 99), (134, 99)], '#0000cd')
leader([(94, 120), (112, 120), (136, 113)], '#6a5acd')
leader([(103, 137), (138, 137), (146, 146)], '#ff0000')
leader([(107, 151), (112, 151)], RH_RED)
leader([(130, 151), (148, 170)], RH_RED)
leader([(99, 165), (112, 165)], 'black')
leader([(130, 165), (138, 172)], 'black')
leader([(70, 179), (139, 179)], '#00a000')
leader([(80, 190), (137, 190)], '#00a000')
leader([(70, 202), (112, 202)], '#1133cc')
leader([(130, 202), (160, 172)], '#1133cc')
leader([(81, 213), (128, 213), (160, 178)], '#1133cc')
leader([(96, 224), (140, 224), (146, 220)], '#ff0000')
leader([(51, 264), (130, 264), (136, 262)], 'black')
leader([(112, 334), (128, 334), (138, 315)], '#ff0000')
leader([(106, 348), (130, 348), (148, 340)], '#ff0000')
leader([(92, 367), (136, 367)], NAVY)
leader([(86, 410), (143, 410)], NAVY)
leader([(100, 431), (135, 431), (180, 442)], BROWN)
leader([(57, 468), (135, 468), (195, 457)], 'black')
leader([(57, 480), (142, 480)], '#444444')
leader([(57, 490), (133, 490), (138, 496)], '#999999')
leader([(57, 500), (133, 500), (137, 505)], '#dddddd')
leader([(55, 509), (135, 509)], DAY_BLUE)
leader([(55, 512), (135, 512)], DAY_BLUE)
leader([(67, 528), (129, 528), (178, 465)], ORANGE)
leader([(53, 556), (186, 556)], DAY_BLUE)
leader([(50, 571), (192, 571)], '#999999')
leader([(40, 581), (120, 581)], '#444444')
leader([(130, 581), (136, 581)], '#444444')
leader([(74, 593), (136, 593)], '#333333')
leader([(26, 605), (218, 605), (220, 600)], FOG_YELLOW)
leader([(139, 623), (148, 623), (157, 610)], 'black')

# compass crosses
for cx in (300, 896):
    leader([(cx - 4, 417), (cx + 5, 417)], NAVY)
    leader([(cx, 412), (cx, 421)], NAVY)

fig.update_layout(width=WIDTH, height=HEIGHT, margin=dict(l=0, r=0, t=0, b=0, pad=0, autoexpand=False), showlegend=False,
                  paper_bgcolor='white', plot_bgcolor='rgba(0,0,0,0)', barmode='stack', hovermode=False,
                  font=dict(family=FONT, size=12), shapes=shapes, annotations=annotations, **layout)

# the default page has a body margin that would push the figure off its pixel grid
fig.write_html("out.html", config=dict(displayModeBar=False), post_script="document.body.style.margin='0';")
